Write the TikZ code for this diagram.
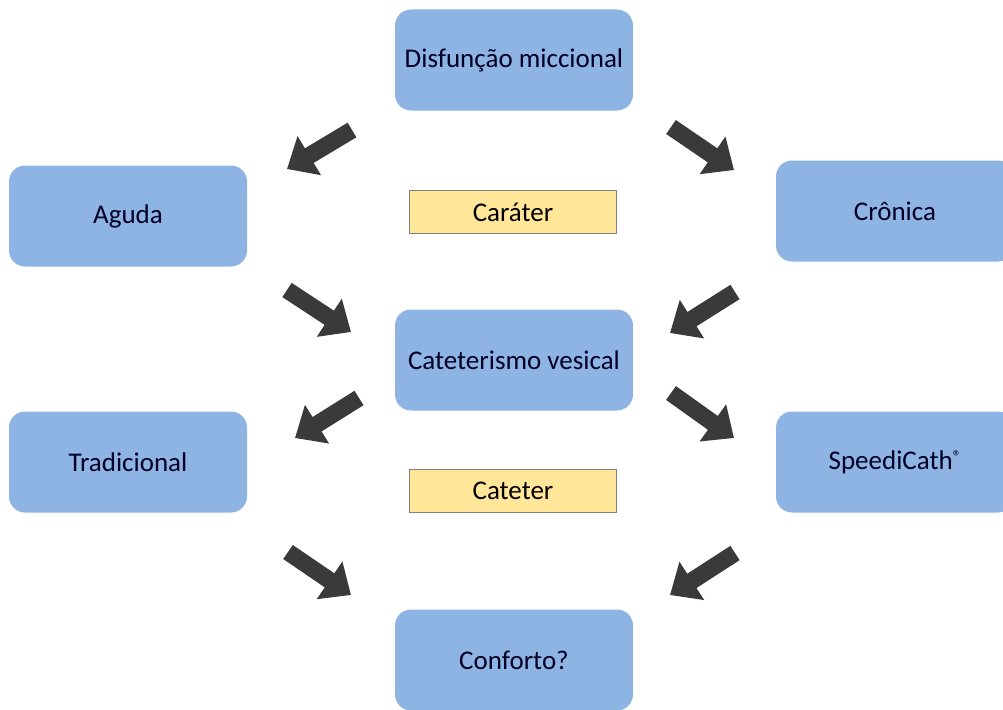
\documentclass[tikz,border=0pt]{standalone}
\usepackage{fontspec}
\setmainfont{Carlito}
\usepackage{tikz}
\usetikzlibrary{arrows.meta}
\definecolor{boxblue}{RGB}{141,180,226}
\definecolor{tagyellow}{RGB}{255,230,153}
\definecolor{arrowgray}{RGB}{58,58,58}
\tikzset{>=latex}
\tikzset{font=\fontsize{27}{32}\selectfont}
\tikzset{
  stage/.style={rounded corners=16pt, fill=boxblue, minimum width=238pt,
    minimum height=101pt, text=black!85!blue, inner sep=0pt},
  tag/.style={draw=gray, fill=tagyellow, minimum width=207pt,
    minimum height=43pt, inner sep=0pt, line width=1pt},
  fatarrow/.style={arrowgray, line width=17pt,
    -{Triangle[length=26pt,width=44pt]}}
}
\begin{document}
\begin{tikzpicture}[x=1pt,y=-1pt]
  \useasboundingbox (0,0) rectangle (1003,709);
  % boxes
  \node[stage] (disf) at (514,60) {Disfunção miccional};
  \node[stage] (aguda) at (128,216) {Aguda};
  \node[stage] (cronica) at (895,211) {Crônica};
  \node[tag] (carater) at (513,212) {Caráter};
  \node[stage] (catvesical) at (514,360) {Cateterismo vesical};
  \node[stage] (tradicional) at (128,462) {Tradicional};
  \node[stage] (speedicath) at (895,462) {SpeediCath\raisebox{0.5ex}{\fontsize{17}{17}\selectfont®}};
  \node[tag] (cateter) at (513,491) {Cateter};
  \node[stage] (conforto) at (514,660) {Conforto?};
  % arrows
  \coordinate (a1s) at (352,130); \coordinate (a1e) at (287,169);
  \coordinate (a2s) at (671,127); \coordinate (a2e) at (734,170);
  \coordinate (a3s) at (287,290); \coordinate (a3e) at (351,332);
  \coordinate (a4s) at (735,292); \coordinate (a4e) at (670,333);
  \coordinate (a5s) at (359,398); \coordinate (a5e) at (295,438);
  \coordinate (a6s) at (671,393); \coordinate (a6e) at (734,438);
  \coordinate (a7s) at (288,552); \coordinate (a7e) at (351,595);
  \coordinate (a8s) at (735,553); \coordinate (a8e) at (670,595);
  \foreach \i in {1,...,8}
    \draw[fatarrow] (a\i s) -- (a\i e);
\end{tikzpicture}
\end{document}
